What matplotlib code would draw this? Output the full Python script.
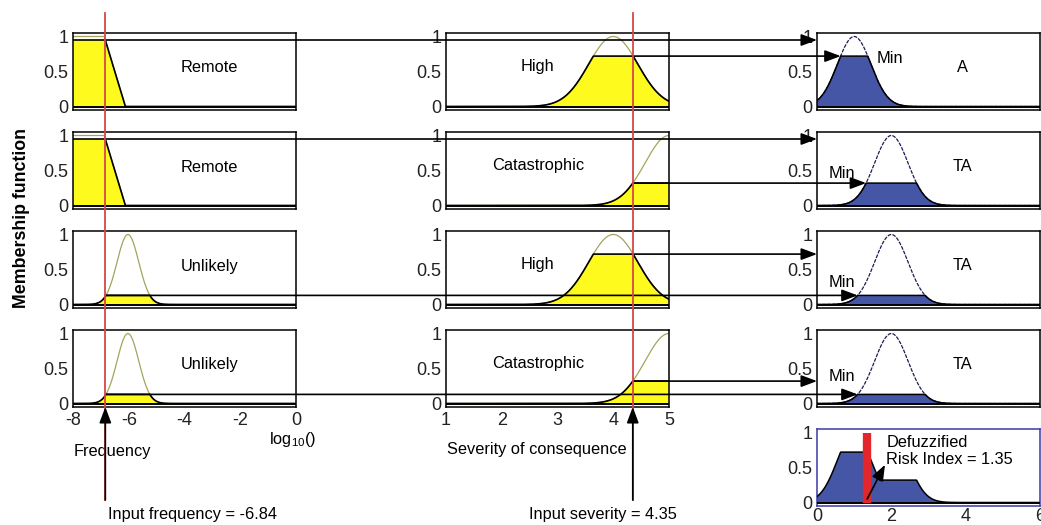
import numpy as np
import matplotlib
matplotlib.use("Agg")
import matplotlib.pyplot as plt
from matplotlib.patches import ConnectionPatch
from matplotlib.lines import Line2D
from matplotlib.transforms import blended_transform_factory

plt.rcParams["font.family"] = ["Liberation Sans", "DejaVu Sans"]
plt.rcParams["mathtext.fontset"] = "custom"
plt.rcParams["mathtext.rm"] = "Liberation Sans"
plt.rcParams["axes.unicode_minus"] = False

W, H = 1041, 525

# crisp inputs / defuzzified output
freq_input = -6.84
sev_input = 4.35
risk_index = 1.35

# rule base, one entry per row
freq_terms = ["Remote", "Remote", "Unlikely", "Unlikely"]
sev_terms = ["High", "Catastrophic", "High", "Catastrophic"]
risk_terms = ["A", "TA", "TA", "TA"]

# membership degrees at the inputs
freq_degrees = [0.95, 0.95, 0.13, 0.13]
sev_degrees = [0.72, 0.32, 0.72, 0.32]

# membership function shapes
remote_shoulder = [-6.88, -6.12]     # 1 before first, 0 after second
unlikely_gauss = [-6.03, 0.39]       # centre, sigma
high_gauss = [4.0, 0.44]
catastrophic_gauss = [5.0, 0.43]
a_gauss = [1.0, 0.45]
ta_gauss = [2.0, 0.45]

freq_range = [-8, 0]
sev_range = [1, 5]
risk_range = [0, 6]
freq_ticks = [-8, -6, -4, -2, 0]
sev_ticks = [1, 2, 3, 4, 5]
risk_ticks = [0, 2, 4, 6]
mf_ticks = [0, 0.5, 1]
mf_ticklabels = ["0", "0.5", "1"]

# where the "Min" labels sit in the output panels
min_label_xy = [(1.96, 0.69), (0.67, 0.46), (0.67, 0.32), (0.67, 0.38)]

YELLOW = "#fffa1e"
OLIVE = "#a4a45c"
BLUE = "#4656a6"
NAVY = "#1c1c50"
RED = "#d6484a"


def gauss(x, p):
    return np.exp(-0.5 * ((x - p[0]) / p[1]) ** 2)


def zshape(x, p):
    return np.clip((p[1] - x) / (p[1] - p[0]), 0, 1)


MF = {
    "Remote": lambda x: zshape(x, remote_shoulder),
    "Unlikely": lambda x: gauss(x, unlikely_gauss),
    "High": lambda x: gauss(x, high_gauss),
    "Catastrophic": lambda x: gauss(x, catastrophic_gauss),
    "A": lambda x: gauss(x, a_gauss),
    "TA": lambda x: gauss(x, ta_gauss),
}

fig = plt.figure(figsize=(W / 100, H / 100), dpi=100)


def add_box(left, top, w=223, h=77):
    return fig.add_axes([left / W, 1 - (top + h) / H, w / W, h / H])


def style(ax, xr, edge="black"):
    ax.set_xlim(xr)
    ax.set_ylim(-0.05, 1.05)
    ax.set_yticks(mf_ticks, mf_ticklabels)
    ax.set_xticks([])
    ax.tick_params(length=0, labelsize=13, pad=3.5, labelcolor="#222222")
    for s in ax.spines.values():
        s.set_color(edge)
        s.set_linewidth(1.1)
    ax.axhline(0, color="black", lw=1.4, zorder=4)


def draw_term(ax, xr, term, level, fill, outline):
    x = np.linspace(xr[0], xr[1], 500)
    mf = MF[term](x)
    clipped = np.minimum(mf, level)
    ax.fill_between(x, 0, clipped, facecolor=fill, edgecolor="none", zorder=1)
    ax.plot(x, mf, color=outline, lw=0.9, zorder=2)
    ax.plot(x, clipped, color="black", lw=1.2, zorder=3)


def arrow(xyA, csA, xyB, csB, z=2):
    con = ConnectionPatch(xyA=xyA, coordsA=csA, xyB=xyB, coordsB=csB,
                          arrowstyle="-|>,head_length=0.8,head_width=0.3",
                          mutation_scale=12, color="black", lw=1.2,
                          shrinkA=0, shrinkB=0, clip_on=False, zorder=z)
    fig.add_artist(con)


col_left = [73, 446, 817]
row_top = [33, 132, 231, 330]
xgrid_out = np.linspace(risk_range[0], risk_range[1], 600)

freq_axes, sev_axes, out_axes = [], [], []
agg = np.zeros_like(xgrid_out)
for i in range(4):
    fd, sd = freq_degrees[i], sev_degrees[i]
    fire = min(fd, sd)

    ax1 = add_box(col_left[0], row_top[i])
    style(ax1, freq_range)
    draw_term(ax1, freq_range, freq_terms[i], fd, YELLOW, OLIVE)
    ax1.text(-3.1, 0.55, freq_terms[i], ha="center", va="center", fontsize=11.8)

    ax2 = add_box(col_left[1], row_top[i])
    style(ax2, sev_range)
    draw_term(ax2, sev_range, sev_terms[i], sd, YELLOW, OLIVE)
    ax2.text(2.65, 0.57, sev_terms[i], ha="center", va="center", fontsize=11.8)

    ax3 = add_box(col_left[2], row_top[i])
    style(ax3, risk_range)
    x = np.linspace(risk_range[0], risk_range[1], 500)
    mf = MF[risk_terms[i]](x)
    clipped = np.minimum(mf, fire)
    ax3.fill_between(x, 0, clipped, facecolor=BLUE, edgecolor="none", zorder=1)
    ax3.plot(x, mf, color=NAVY, lw=0.9, ls=(0, (3, 1)), zorder=2)
    ax3.plot(x, clipped, color="black", lw=1.1, zorder=3)
    ax3.text(3.92, 0.56, risk_terms[i], ha="center", va="center", fontsize=11.8)
    ax3.text(*min_label_xy[i], "Min", ha="center", va="center", fontsize=11.8)

    agg = np.maximum(agg, np.minimum(MF[risk_terms[i]](xgrid_out), fire))
    freq_axes.append(ax1)
    sev_axes.append(ax2)
    out_axes.append(ax3)

    # left crossing of the clipped output set
    x_cross = x[np.argmax(mf >= fire)]
    for deg, other, x_in, ax_in in ((fd, sd, freq_input, ax1), (sd, fd, sev_input, ax2)):
        x_end = risk_range[0] if deg > other else x_cross
        arrow((x_in, deg), ax_in.transData, (x_end, deg), ax3.transData)

freq_axes[3].set_xticks(freq_ticks)
sev_axes[3].set_xticks(sev_ticks)

# aggregated output
ax5 = add_box(col_left[2], 429)
style(ax5, risk_range, edge="#3b3ba3")
ax5.set_xticks(risk_ticks)
ax5.tick_params(axis="x", pad=1.5)
ax5.fill_between(xgrid_out, 0, agg, facecolor=BLUE, edgecolor="none", zorder=1)
ax5.plot(xgrid_out, agg, color="black", lw=1.1, zorder=3)
ax5.plot([risk_index, risk_index], [0, 1.0], color="#e3262b", lw=6,
         solid_capstyle="butt", zorder=5)
ax5.annotate("", xy=(1.83, 0.54), xytext=(risk_index, 0.05),
             arrowprops=dict(arrowstyle="-|>,head_length=0.8,head_width=0.3",
                             mutation_scale=12, color="black", lw=1.2,
                             shrinkA=0, shrinkB=0), zorder=6)
ax5.text(1.86, 0.86, "Defuzzified", ha="left", va="center", fontsize=11.8)
ax5.text(1.86, 0.62, "Risk Index = %.2f" % risk_index, ha="left", va="center", fontsize=11.8)

# input markers: black arrows from below and red vertical lines
y_bottom = 1 - 500 / H
y_top = 1 - 13 / H
for x_in, ax_in in ((freq_input, freq_axes[3]), (sev_input, sev_axes[3])):
    tr = blended_transform_factory(ax_in.transData, fig.transFigure)
    fig.add_artist(Line2D([x_in, x_in], [y_top, y_bottom], transform=tr,
                          color=RED, lw=1.3, zorder=3))
    arrow((x_in, y_bottom), tr, (x_in, -0.05), ax_in.transData, z=4)

axf, axs = freq_axes[3], sev_axes[3]
axf.text(-6.57, -0.69, "Frequency", ha="center", va="center", fontsize=11.8)
axf.text(-0.11, -0.52, r"log$_{\mathregular{10}}$()", ha="center", va="center", fontsize=11.8)
axf.text(-3.73, -1.59, "Input frequency = %.2f" % freq_input, ha="center", va="center", fontsize=11.8)
axs.text(2.63, -0.66, "Severity of consequence", ha="center", va="center", fontsize=11.8)
axs.text(3.82, -1.59, "Input severity = %.2f" % sev_input, ha="center", va="center", fontsize=11.8)

fig.text(22 / W, 1 - 218 / H, "Membership function", rotation=90, ha="center",
         va="center", fontsize=12.8, fontweight="bold")

fig.savefig("out.png", dpi=100)
